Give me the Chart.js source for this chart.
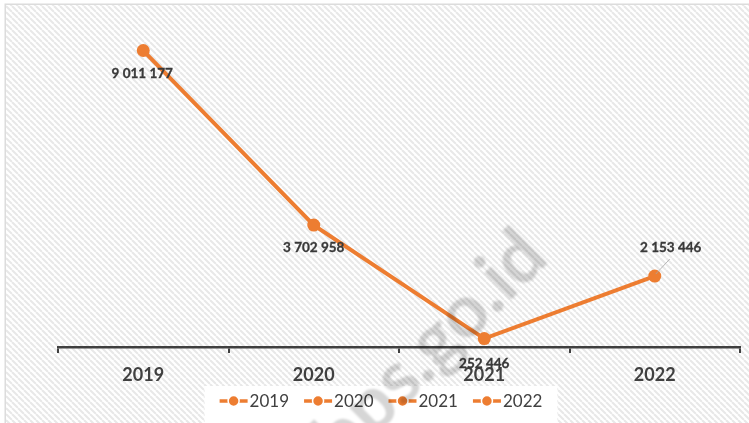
<!DOCTYPE html>
<html><head><meta charset="utf-8">
<script src="https://cdn.jsdelivr.net/npm/chart.js@4.4.0/dist/chart.umd.min.js"></script>
<style>html,body{margin:0;padding:0;background:#fff;overflow:hidden}#c{display:block}</style>
</head><body>
<canvas id="c" width="749" height="423"></canvas>
<script>
const categories = ['2019', '2020', '2021', '2022'];
const values = [9011177, 3702958, 252446, 2153446];
const legendLabels = ['2019', '2020', '2021', '2022'];
const yMin = 0;
const yMax = 10000000;
const watermarkText = 'bps.go.id';

const ORANGE = '#ED7D31';
const TEXT = '#404040';
const FONT = 'Lato, "Open Sans", sans-serif';

function fmt(v) { return String(v).replace(/\B(?=(\d{3})+(?!\d))/g, ' '); }

const canvas = document.getElementById('c');

function makeHatch(ctx) {
  const s = 6;
  const p = document.createElement('canvas');
  p.width = s; p.height = s;
  const g = p.getContext('2d');
  g.fillStyle = '#ffffff'; g.fillRect(0, 0, s, s);
  g.strokeStyle = '#e8e8e8'; g.lineWidth = 2;
  for (let k = -1; k <= 1; k++) {
    g.beginPath(); g.moveTo(k * s, 0); g.lineTo(k * s + s, s); g.stroke();
  }
  return ctx.createPattern(p, 'repeat');
}

function legendLayout(chart) {
  const c = chart.ctx;
  c.save();
  c.font = '17px ' + FONT;
  const markerW = 28, gapText = 30, after = 15;
  const widths = legendLabels.map(t => gapText + c.measureText(t).width);
  c.restore();
  const total = widths.reduce((a, b) => a + b, 0) + after * (widths.length - 1);
  const cx = 381;
  let x = cx - total / 2;
  const items = widths.map((w, i) => { const it = {x, w, text: legendLabels[i]}; x += w + after; return it; });
  return {items, total, cx, cy: chart.height - 22, markerW};
}

const bgPlugin = {
  id: 'bg',
  beforeDraw(chart) {
    const c = chart.ctx, W = chart.width, H = chart.height;
    c.save();
    c.fillStyle = '#fff'; c.fillRect(0, 0, W, H);
    c.fillStyle = makeHatch(c); c.fillRect(6, 5, W - 6, H - 5);
    c.strokeStyle = '#dcdcdc'; c.lineWidth = 1.5;
    c.beginPath(); c.moveTo(5.25, H); c.lineTo(5.25, 4.25); c.lineTo(W, 4.25); c.stroke();
    const L = legendLayout(chart);
    c.fillStyle = '#ffffff';
    c.fillRect(L.cx - L.total / 2 - 15, L.cy - 15, L.total + 30, H - (L.cy - 15));
    c.restore();
  }
};

const labelOffsets = [
  {dx: -1, dy: 23}, {dx: 0, dy: 23}, {dx: 0, dy: 25}, {dx: 16, dy: -28, leader: true}
];
const labelPlugin = {
  id: 'vlabels',
  afterDatasetsDraw(chart) {
    const meta = chart.getDatasetMeta(0);
    const c = chart.ctx;
    c.save();
    c.font = 'bold 13.5px ' + FONT;
    c.fillStyle = '#3a3a3a'; c.textAlign = 'center'; c.textBaseline = 'middle';
    c.strokeStyle = '#3a3a3a'; c.lineWidth = 0.3;
    meta.data.forEach((pt, i) => {
      const o = labelOffsets[i];
      if (o.leader) {
        c.save();
        c.strokeStyle = '#a6a6a6'; c.lineWidth = 0.8;
        c.beginPath(); c.moveTo(pt.x + 1, pt.y - 2); c.lineTo(pt.x + 15, pt.y - 17); c.stroke();
        c.restore();
      }
      c.fillText(fmt(values[i]), pt.x + o.dx, pt.y + o.dy);
      c.strokeText(fmt(values[i]), pt.x + o.dx, pt.y + o.dy);
    });
    c.restore();
  }
};

const legendPlugin = {
  id: 'customLegend',
  afterDraw(chart) {
    const c = chart.ctx;
    const L = legendLayout(chart);
    c.save();
    L.items.forEach(it => {
      c.strokeStyle = ORANGE; c.lineWidth = 3.5;
      c.beginPath(); c.moveTo(it.x, L.cy); c.lineTo(it.x + L.markerW, L.cy); c.stroke();
      c.beginPath(); c.arc(it.x + L.markerW / 2, L.cy, 5.5, 0, Math.PI * 2);
      c.fillStyle = ORANGE; c.fill();
      c.strokeStyle = '#fff'; c.lineWidth = 1.5; c.stroke();
      c.font = '17px ' + FONT; c.fillStyle = TEXT;
      c.textAlign = 'left'; c.textBaseline = 'middle';
      c.fillText(it.text, it.x + 30, L.cy + 1);
    });
    c.restore();
  }
};

const watermarkPlugin = {
  id: 'watermark',
  afterDraw(chart) {
    const c = chart.ctx;
    c.save();
    c.translate(447, 364);
    c.rotate(-Math.PI / 4);
    c.font = 'bold 74px ' + FONT;
    c.fillStyle = 'rgba(0,0,0,0.16)';
    c.textAlign = 'center'; c.textBaseline = 'alphabetic';
    c.filter = 'blur(0.8px)';
    c.fillText(watermarkText, 0, 0);
    c.restore();
  }
};

function build() {
  new Chart(canvas, {
    type: 'line',
    data: {
      labels: categories,
      datasets: [{
        data: values,
        borderColor: ORANGE,
        backgroundColor: ORANGE,
        borderWidth: 4,
        pointRadius: 6.5,
        pointBackgroundColor: ORANGE,
        pointBorderColor: ORANGE,
        pointBorderWidth: 0,
        tension: 0,
        clip: false
      }]
    },
    options: {
      responsive: false,
      animation: false,
      devicePixelRatio: 1,
      layout: {padding: {left: 58, right: 9, top: 18, bottom: 26.5}},
      plugins: {legend: {display: false}, tooltip: {enabled: false}},
      scales: {
        x: {
          offset: true,
          grid: {offset: true, drawOnChartArea: false, drawTicks: true, tickLength: 6, color: TEXT, lineWidth: 2},
          border: {display: true, color: TEXT, width: 2.5},
          ticks: {color: TEXT, font: {family: FONT, size: 18, weight: 'bold'}, padding: 11, maxRotation: 0}
        },
        y: {display: false, min: yMin, max: yMax}
      }
    },
    plugins: [bgPlugin, labelPlugin, legendPlugin, watermarkPlugin]
  });
}

if (document.fonts && document.fonts.load) {
  Promise.all([
    document.fonts.load('bold 18px Lato'),
    document.fonts.load('17px Lato'),
    document.fonts.load('bold 13px Lato')
  ]).then(build, build);
} else { build(); }
</script>
</body></html>
